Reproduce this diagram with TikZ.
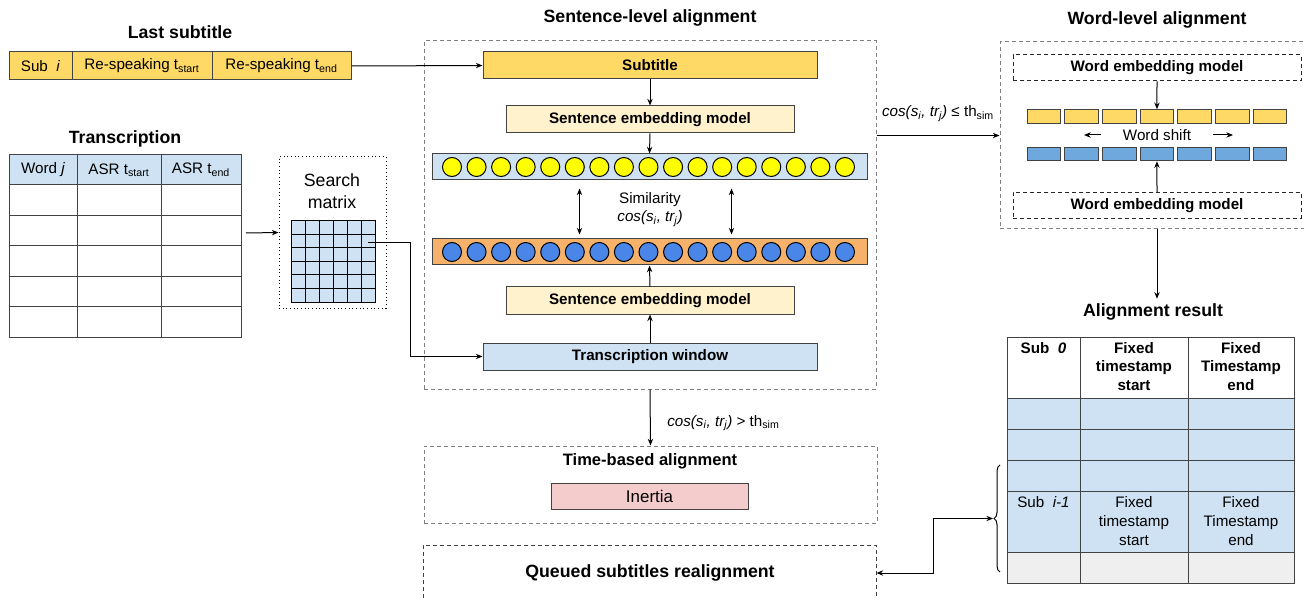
\documentclass[tikz,border=0pt]{standalone}
\usepackage{fontspec}
\setmainfont{Liberation Sans}
\usetikzlibrary{arrows.meta,decorations.pathreplacing}
\newdimen\px \px=0.75pt
\definecolor{subyellow}{HTML}{FFD966}
\definecolor{semyellow}{HTML}{FFF2CC}
\definecolor{paleblue}{HTML}{CFE2F3}
\definecolor{barorange}{HTML}{F6B26B}
\definecolor{dotyellow}{HTML}{FFFF00}
\definecolor{dotblue}{HTML}{4A86E8}
\definecolor{wordblue}{HTML}{6FA8DC}
\definecolor{inertiapink}{HTML}{F4CCCC}
\definecolor{rowgray}{HTML}{EFEFEF}
\definecolor{edgegray}{HTML}{434343}
\definecolor{dashgray}{HTML}{808080}
\newcommand{\titlefont}{\fontsize{13.3}{16}\selectfont\bfseries}
\newcommand{\labelfont}{\fontsize{11.4}{14}\selectfont}
\begin{document}
\begin{tikzpicture}[x=0.75pt, y=-0.75pt, line width=0.75pt, >={Stealth[length=5pt,width=4pt]}]
            \tikzset{box/.style={draw=edgegray, inner sep=0pt, font=\labelfont\bfseries, minimum height=27\px}};
            \tikzset{cell/.style={draw=edgegray, inner sep=0pt, font=\labelfont}};
            \tikzset{frame/.style={draw=dashgray, dash pattern=on 4\px off 3\px}};
            \tikzset{heading/.style={font=\titlefont}};
            \tikzset{dot/.style={circle, draw=black, minimum size=19\px, inner sep=0pt}};
            \tikzset{word/.style={draw=edgegray, minimum width=33.7\px, minimum height=13.5\px, inner sep=0pt}};
            \useasboundingbox (0,0) rectangle (1304,599);

            % last subtitle
            \node[heading] (lasttitle) at (180,32) {Last subtitle};
            \node[cell, fill=subyellow, minimum width=63\px, minimum height=28\px] (subi) at (40.5,66) {Sub\ \ \textit{i}};
            \node[cell, fill=subyellow, minimum width=140\px, minimum height=28\px] (rsstart) at (142,66) {Re-speaking t\textsubscript{start}};
            \node[cell, fill=subyellow, minimum width=139\px, minimum height=28\px] (rsend) at (281.5,66) {Re-speaking t\textsubscript{end}};

            % transcription
            \node[heading] (trtitle) at (125,139) {Transcription};
            \node[cell, fill=paleblue, minimum width=68\px, minimum height=30\px] (trword) at (43,170) {Word \textit{j}};
            \node[cell, fill=paleblue, minimum width=84\px, minimum height=30\px] (trstart) at (119,170) {ASR t\textsubscript{start}};
            \node[cell, fill=paleblue, minimum width=80\px, minimum height=30\px] (trend) at (201,170) {ASR t\textsubscript{end}};
            \foreach \r in {1,...,5}{
                \node[cell, minimum width=68\px, minimum height=30.4\px] (tr\r a) at (43,169.8+30.4*\r) {};
                \node[cell, minimum width=84\px, minimum height=30.4\px] (tr\r b) at (119,169.8+30.4*\r) {};
                \node[cell, minimum width=80\px, minimum height=30.4\px] (tr\r c) at (201,169.8+30.4*\r) {};
            }
            \coordinate (trout) at (246,233);

            % search matrix
            \node[draw=black, dotted, minimum width=107\px, minimum height=151\px] (smbox) at (332.5,232.5) {};
            \node[font=\fontsize{13.3}{16.5}\selectfont, align=center] (smtext) at (332,191) {Search\\matrix};
            \node[draw=black, fill=paleblue, minimum width=84\px, minimum height=81\px, inner sep=0pt] (smgrid) at (333,261.5) {};
            \foreach \i in {1,...,5}{
                \draw (291+14*\i,221) -- (291+14*\i,302);
                \draw (291,221+13.5*\i) -- (375,221+13.5*\i);
            }
            \coordinate (smcell) at (368,243);

            % sentence-level alignment
            \node[heading] (senttitle) at (650,18) {Sentence-level alignment};
            \node[frame, minimum width=452\px, minimum height=348\px] (sentbox) at (650,215) {};
            \node[box, fill=subyellow, minimum width=334\px] (subtitle) at (650,65.5) {Subtitle};
            \node[box, fill=semyellow, minimum width=288\px] (sem1) at (650,119.5) {Sentence embedding model};
            \node[box, fill=paleblue, minimum width=435\px, minimum height=26\px] (ybar) at (649.5,167) {};
            \foreach \k in {0,...,16}
                \node[dot, fill=dotyellow] (yd\k) at (452+24.56*\k,167) {};
            \node[font=\labelfont, align=center] (simil) at (650,209.5) {Similarity\\\textit{cos(s\textsubscript{i}, tr\textsubscript{j})}};
            \node[box, fill=barorange, minimum width=435\px, minimum height=26\px] (obar) at (649.5,252) {};
            \foreach \k in {0,...,16}
                \node[dot, fill=dotblue] (bd\k) at (452+24.56*\k,252) {};
            \node[box, fill=semyellow, minimum width=288\px] (sem2) at (650,300.5) {Sentence embedding model};
            \node[box, fill=paleblue, minimum width=334\px] (twin) at (650,356.5) {Transcription window};

            % time-based and queued
            \node[frame, minimum width=453\px, minimum height=77\px] (timebox) at (650.5,484.5) {};
            \node[font=\fontsize{12.4}{15}\selectfont\bfseries] (timetitle) at (650,461) {Time-based alignment};
            \node[draw=edgegray, fill=inertiapink, minimum width=197\px, minimum height=26\px, inner sep=0pt, font=\fontsize{12.7}{15}\selectfont] (inertia) at (649.5,496) {Inertia};
            \node[frame, draw=black!75, minimum width=453\px, minimum height=60\px] (queued) at (649.5,575) {};
            \node[heading] (queuedtext) at (650,573) {Queued subtitles realignment};

            % word-level alignment
            \node[heading] (wordtitle) at (1157,20) {Word-level alignment};
            \node[frame, minimum width=310\px, minimum height=187\px] (wordbox) at (1155,135.5) {};
            \node[box, draw=black!85, dash pattern=on 4\px off 3\px, minimum width=288\px, minimum height=26\px] (wem1) at (1157,68) {Word embedding model};
            \node[box, draw=black!85, dash pattern=on 4\px off 3\px, minimum width=288\px, minimum height=26\px] (wem2) at (1157,205.5) {Word embedding model};
            \foreach \k in {1,...,7}{
                \node[word, fill=subyellow] (wy\k) at (1043.85+37.7*\k-37.7,116.5) {};
                \node[word, fill=wordblue] (wb\k) at (1043.85+37.7*\k-37.7,154) {};
            }
            \node[font=\labelfont] (wshift) at (1157,135) {Word shift};
            \coordinate (wsl) at (1101,135);
            \coordinate (wsr) at (1213,135);

            % alignment result
            \node[heading] (restitle) at (1153,312) {Alignment result};
            \foreach \y/\h/\c [count=\r] in {367.5/61/white,413.5/31/paleblue,444.5/31/paleblue,475.5/31/paleblue,521.5/61/paleblue,567.5/31/rowgray}{
                \node[cell, fill=\c, minimum width=73\px, minimum height=\h\px] (res\r a) at (1043.5,\y) {};
                \node[cell, fill=\c, minimum width=108\px, minimum height=\h\px] (res\r b) at (1134,\y) {};
                \node[cell, fill=\c, minimum width=106\px, minimum height=\h\px] (res\r c) at (1241,\y) {};
            }
            \node[font=\labelfont\bfseries] (hsub) at (1043.5,348) {Sub\ \ \textit{0}};
            \node[font=\labelfont\bfseries, align=center] (hstart) at (1134,366.5) {Fixed\\timestamp\\start};
            \node[font=\labelfont\bfseries, align=center] (hend) at (1241,366.5) {Fixed\\Timestamp\\end};
            \node[font=\labelfont] (lsub) at (1043.5,502) {Sub\ \ \textit{i-1}};
            \node[font=\labelfont, align=center] (lstart) at (1134,521) {Fixed\\timestamp\\start};
            \node[font=\labelfont, align=center] (lend) at (1241,521) {Fixed\\Timestamp\\end};
            \draw[decorate, decoration={brace, amplitude=6\px}] (1000,572) -- (1000,465);
            \coordinate (bracetip) at (993,518.5);

            % connectors
            \draw[->] (rsend.east) -- (subtitle.west);
            \draw[->] (trout) -- (smbox.west);
            \draw[->] (smcell) -- ++(42,0) |- (twin.west);
            \draw[->] (subtitle.south) -- (sem1.north);
            \draw[->] (sem1.south) -- (ybar.north);
            \draw[<->, shorten <=8\px, shorten >=4\px] ([xshift=-52.5pt]ybar.south) -- ([xshift=-52.5pt]obar.north);
            \draw[<->, shorten <=8\px, shorten >=4\px] ([xshift=61.5pt]ybar.south) -- ([xshift=61.5pt]obar.north);
            \draw[->] (sem2.north) -- (obar.south);
            \draw[->] (twin.north) -- (sem2.south);
            \draw[->] (sentbox.south) -- node[pos=0.6, right=9pt, font=\labelfont] {\textit{cos(s\textsubscript{i}, tr\textsubscript{j})} > th\textsubscript{sim}} (timebox.north);
            \draw[->] (sentbox.east |- wordbox.west) -- node[above=7pt, font=\labelfont] {\textit{cos(s\textsubscript{i}, tr\textsubscript{j})} ≤ th\textsubscript{sim}} (wordbox.west);
            \draw[->] (wem1.south) -- (wy4.north);
            \draw[->] (wem2.north) -- (wb4.south);
            \draw[->] (wshift.west -| wsl) -- ++(-17,0);
            \draw[->] (wshift.east -| wsr) -- ++(20,0);
            \draw[->] (wem2.south |- wordbox.south) -- (wem2.south |- restitle.north);
            \draw[<->] (bracetip) -- ++(-60,0) |- (queued.east |- queuedtext);
\end{tikzpicture}
\end{document}
